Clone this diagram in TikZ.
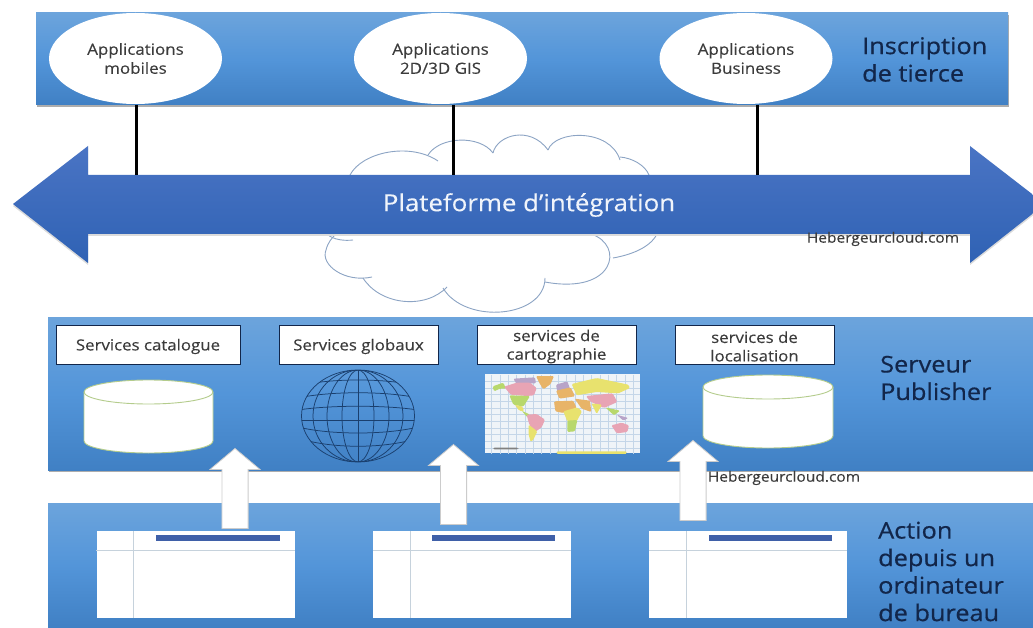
\documentclass[tikz,border=0pt]{standalone}
\usepackage{fontspec}
\setmainfont[FakeStretch=1.1,FakeBold=0.2]{Open Sans}
\newfontfamily\bigfont[FakeStretch=1.1,FakeBold=0.5]{Open Sans}
\usetikzlibrary{shapes.geometric,shapes.arrows,calc}
\newcommand{\svcstrut}{\rule{0pt}{15.5pt}}
\definecolor{bandTop}{HTML}{6CA4DC}
\definecolor{bandMid}{HTML}{5395D9}
\definecolor{bandBot}{HTML}{4080C4}
\definecolor{arrTop}{HTML}{4A74C4}
\definecolor{arrMid}{HTML}{416FCC}
\definecolor{arrBot}{HTML}{2F62B4}
\definecolor{navyText}{HTML}{12264A}
\definecolor{grayText}{HTML}{3C3C3C}
\definecolor{cloudLine}{HTML}{8CA4C4}
\definecolor{cylLine}{HTML}{B4CC8C}
\definecolor{winLine}{HTML}{C6D2DC}
\definecolor{winBar}{HTML}{3F60A8}
\definecolor{globeLine}{HTML}{1A3F6E}
\definecolor{mapBg}{HTML}{EFF4F8}
\definecolor{mapGrid}{HTML}{C4D6E8}
\definecolor{mapPink}{HTML}{E8A4B4}
\definecolor{mapYellow}{HTML}{E8E26E}
\definecolor{mapGreen}{HTML}{B8D86C}
\definecolor{mapOrange}{HTML}{E8B468}
\definecolor{mapPurple}{HTML}{B8A4C8}
\tikzset{
  band/.style={rectangle,inner sep=0pt,draw=none,top color=bandTop,bottom color=bandBot,middle color=bandMid},
  bandshadow/.style={fill=black!32,draw=none},
  appell/.style={ellipse,fill=white,draw=none,inner sep=0pt,minimum width=173pt,minimum height=91pt,align=center,text=grayText,font=\fontsize{15.4}{19}\selectfont},
  svcbox/.style={rectangle,fill=white,draw=navyText,line width=1pt,inner sep=0pt,minimum height=39pt,align=center,text=grayText,font=\fontsize{15.3}{18.5}\selectfont},
  biglabel/.style={anchor=west,align=left,inner sep=0pt,text=navyText,font=\bigfont\fontsize{23}{27.5}\selectfont},
  wmark/.style={inner sep=0pt,text=grayText,font=\fontsize{14.1}{16}\selectfont},
  link/.style={draw=black,line width=3pt},
  cloudstroke/.style={draw=cloudLine,line width=0.9pt},
  cyl/.style={fill=white,draw=cylLine,line width=0.9pt},
  winbox/.style={rectangle,fill=white,draw=none,inner sep=0pt,minimum width=198pt,minimum height=87pt},
  winline/.style={draw=winLine,line width=0.9pt},
  winbar/.style={fill=winBar,draw=none},
  uparrow/.style={single arrow,fill=white,draw=black!20,line width=0.8pt,inner xsep=0pt,inner ysep=12.7pt,rotate=90,single arrow head extend=12pt,single arrow tip angle=100},
  globeline/.style={draw=globeLine,line width=0.75pt},
  land/.style={draw=none,rounded corners=1.2pt}
}
\begin{document}
\begin{tikzpicture}[x=1pt,y=-1pt]
\useasboundingbox (0,0) rectangle (1033,628);
\fill[white] (0,0) rectangle (1033,628);
% bands
\fill[bandshadow] (36.5,15) rectangle (1009,107);
\fill[bandshadow] (48.5,320) rectangle (1033,472);
\node[band,minimum width=972pt,minimum height=92pt] (bandA) at (522,59) {};
\node[band,minimum width=985pt,minimum height=153pt] (bandB) at (540.5,393.5) {};
\node[band,minimum width=985pt,minimum height=125pt] (bandC) at (540.5,565.5) {};
% cloud
\draw[cloudstroke] (350,175) .. controls (362,152) and (410,142) .. (438,161);
\draw[cloudstroke] (428,155) .. controls (440,136) and (480,135) .. (493,153);
\draw[cloudstroke] (493,153) .. controls (497,135) and (530,125) .. (548,150);
\draw[cloudstroke] (548,150) .. controls (555,130) and (610,128) .. (620,160);
\draw[cloudstroke] (620,157) .. controls (632,158) and (645,165) .. (649,175);
\draw[cloudstroke] (657,234) .. controls (650,248) and (630,255) .. (613,258);
\draw[cloudstroke] (591,234) .. controls (625,245) and (615,295) .. (545,282);
\draw[cloudstroke] (545,278) .. controls (545,318) and (465,325) .. (443,288);
\draw[cloudstroke] (447,287) .. controls (425,310) and (380,305) .. (363,278);
\draw[cloudstroke] (372,277) .. controls (345,283) and (320,265) .. (326,250) .. controls (328,242) and (332,238) .. (336,234);
\draw[cloudstroke] (327,234) .. controls (333,240) and (345,241) .. (353,240);
% application ellipses
\node[appell] (appA) at (135.5,58.5) {Applications\\mobiles};
\node[appell] (appB) at (440.5,58.5) {Applications\\2D/3D GIS};
\node[appell] (appC) at (746,58.5) {Applications\\Business};
\node[biglabel] (lblA) at (862,59.5) {Inscription\\de tierce};
% platform arrow
\fill[black!14] (13,206) -- (88,148) -- (88,177) -- (970,177) -- (970,148) -- (1045,206) -- (970,265) -- (970,236) -- (88,236) -- (88,265) -- cycle;
\shade[top color=arrTop,middle color=arrMid,bottom color=arrBot] (13,204) -- (88,146) -- (88,175) -- (970,175) -- (970,146) -- (1045,204) -- (970,263) -- (970,234) -- (88,234) -- (88,263) -- cycle;
\node[rectangle,inner sep=0pt,minimum width=882pt,minimum height=59pt,text=white!92!arrMid,font=\fontsize{23.5}{26}\selectfont] (plat) at (529,205) {Plateforme d’intégration};
% links
\coordinate (linkA) at (136,105);
\draw[link] (linkA) -- (linkA |- plat.north);
\coordinate (linkB) at (453,105);
\draw[link] (linkB) -- (linkB |- plat.north);
\coordinate (linkC) at (757,105);
\draw[link] (linkC) -- (linkC |- plat.north);
\node[wmark] (markA) at (883,239) {Hebergeurcloud.com};
% service boxes
\node[svcbox,minimum width=184pt] (svcA) at (148,344.5) {\svcstrut Services catalogue};
\node[svcbox,minimum width=159pt] (svcB) at (358.5,344.5) {\svcstrut Services globaux};
\node[svcbox,minimum width=159pt] (svcC) at (556.5,344.5) {\svcstrut services de\\cartographie};
\node[svcbox,minimum width=159pt] (svcD) at (754.5,344.5) {\svcstrut services de\\localisation};
\node[biglabel] (lblB) at (880,378) {Serveur\\Publisher};
% cylinders
\path[cyl] (84,392) -- (84,441) arc (180:0:64.5 and 12) -- (213,392) arc (0:-180:64.5 and 12) -- cycle;
\draw[cylLine,line width=0.9pt] (84,392) arc (180:0:64.5 and 12);
\path[cyl] (703,387) -- (703,436) arc (180:0:65 and 12) -- (833,387) arc (0:-180:65 and 12) -- cycle;
\draw[cylLine,line width=0.9pt] (703,387) arc (180:0:65 and 12);
% globe
\begin{scope}
\clip (358,416) ellipse (56.5 and 46);
\foreach \rr in {16,31,45}{\draw[globeline] (358,416) ellipse [x radius=\rr, y radius=46];}
\draw[globeline] (358,370) -- (358,462);
\draw[globeline] (298,386) .. controls (330,378) and (386,378) .. (418,386);
\draw[globeline] (298,398) .. controls (330,391) and (386,391) .. (418,398);
\draw[globeline] (298,410) .. controls (330,405) and (386,405) .. (418,410);
\draw[globeline] (298,420) -- (418,420);
\draw[globeline] (298,427) .. controls (330,435) and (386,435) .. (418,427);
\draw[globeline] (298,438) .. controls (330,449) and (386,449) .. (418,438);
\end{scope}
\draw[globeline] (358,416) ellipse (56.5 and 46);
% map
\fill[mapBg] (485,374) rectangle (639.5,453);
\begin{scope}[shift={(480,368)},x=0.3333pt,y=-0.3333pt]
\foreach \gx in {35,60,...,470}{\draw[mapGrid,line width=0.35pt] (\gx,20) -- (\gx,258);}
\foreach \gy in {40,60,...,250}{\draw[mapGrid,line width=0.35pt] (15,\gy) -- (480,\gy);}
\fill[land,fill=mapGreen] (38,55) -- (70,44) -- (78,62) -- (60,62) -- (42,70) -- cycle;
\fill[land,fill=mapPurple] (100,32) -- (165,28) -- (168,46) -- (110,48) -- cycle;
\fill[land,fill=mapPink] (72,56) -- (110,44) -- (150,44) -- (170,60) -- (162,82) -- (140,84) -- (92,80) -- cycle;
\fill[land,fill=mapOrange] (168,24) -- (222,24) -- (212,48) -- (190,64) -- (178,45) -- cycle;
\fill[land,fill=mapGreen] (88,82) -- (150,84) -- (140,100) -- (130,116) -- (100,110) -- cycle;
\fill[land,fill=mapYellow] (104,110) -- (128,116) -- (132,130) -- (118,128) -- cycle;
\fill[land,fill=mapGreen] (125,128) -- (150,140) -- (142,148) -- cycle;
\fill[land,fill=mapPink] (140,140) -- (170,138) -- (195,155) -- (185,178) -- (165,192) -- (148,170) -- cycle;
\fill[land,fill=mapYellow] (146,170) -- (172,190) -- (160,215) -- (152,222) -- (146,200) -- cycle;
\fill[land,fill=mapPurple] (228,50) -- (262,40) -- (270,62) -- (232,72) -- cycle;
\fill[land,fill=mapOrange] (228,68) -- (272,58) -- (285,85) -- (238,92) -- cycle;
\fill[land,fill=mapOrange] (222,100) -- (280,98) -- (290,120) -- (250,135) -- (226,130) -- cycle;
\fill[land,fill=mapYellow] (250,130) -- (292,118) -- (306,130) -- (290,160) -- (262,160) -- cycle;
\fill[land,fill=mapGreen] (262,158) -- (292,156) -- (285,190) -- (262,192) -- cycle;
\fill[land,fill=mapYellow] (275,48) -- (350,30) -- (445,50) -- (450,60) -- (415,76) -- (350,72) -- (290,82) -- cycle;
\fill[land,fill=mapPink] (318,84) -- (398,76) -- (412,102) -- (372,120) -- (330,100) -- cycle;
\fill[land,fill=mapOrange] (284,92) -- (330,98) -- (334,132) -- (305,122) -- cycle;
\fill[land,fill=mapYellow] (334,106) -- (366,110) -- (350,138) -- cycle;
\fill[land,fill=mapGreen] (376,118) -- (420,128) -- (402,142) -- cycle;
\fill[land,fill=mapPurple] (410,140) -- (445,150) -- (430,158) -- cycle;
\fill[land,fill=mapPink] (394,172) -- (425,164) -- (447,172) -- (442,192) -- (410,196) -- cycle;
\fill[land,fill=mapYellow] (230,250) -- (440,250) -- (440,258) -- (230,258) -- cycle;
\fill[land,fill=black!50] (40,239) rectangle (115,244);
\end{scope}
% action band
\node[biglabel] (lblC) at (878,571.5) {Action\\depuis un\\ordinateur\\de bureau};
\node[winbox] (winA) at (195.5,574.5) {};
\node[winbox] (winB) at (472,574.5) {};
\node[winbox] (winC) at (748,574.5) {};
\coordinate (hl) at (0,550);
\foreach \w/\vx/\bl/\br in {winA/133/156/279.5,winB/410/432/555,winC/686.5/708.5/832}{
  \draw[winline] (\w.west |- hl) -- (\w.east |- hl);
  \draw[winline] (\vx,531) -- (\vx,618);
  \fill[winbar] (\bl,535) rectangle (\br,541);
}
% white up arrows
\node[uparrow,minimum height=80pt] (upA) at (235,494) {};
\node[uparrow,minimum height=80pt] (upB) at (453.5,490) {};
\node[uparrow,minimum height=80pt] (upC) at (693,486) {};
\node[wmark] (markB) at (784,478) {Hebergeurcloud.com};
\end{tikzpicture}
\end{document}
